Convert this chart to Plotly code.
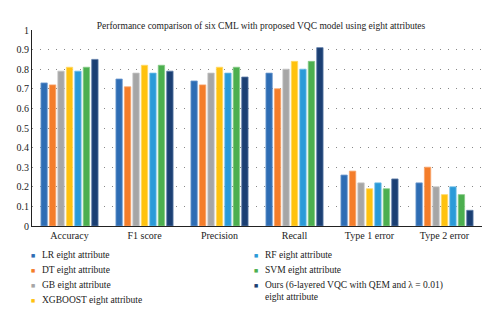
import plotly.graph_objects as go

categories = ["Accuracy", "F1 score", "Precision", "Recall", "Type 1 error", "Type 2 error"]
series_names = [
    "LR eight attribute",
    "DT eight attribute",
    "GB eight attribute",
    "XGBOOST eight attribute",
    "RF eight attribute",
    "SVM eight attribute",
    "Ours (6-layered VQC with QEM and λ = 0.01)<br>eight attribute",
]
lr = [0.73, 0.75, 0.74, 0.78, 0.26, 0.22]
dt = [0.72, 0.71, 0.72, 0.70, 0.28, 0.30]
gb = [0.79, 0.78, 0.78, 0.80, 0.22, 0.20]
xgb = [0.81, 0.82, 0.81, 0.84, 0.19, 0.16]
rf = [0.79, 0.78, 0.78, 0.80, 0.22, 0.20]
svm = [0.81, 0.82, 0.81, 0.84, 0.19, 0.16]
ours = [0.85, 0.79, 0.76, 0.91, 0.24, 0.08]
values = [lr, dt, gb, xgb, rf, svm, ours]
colors = ["#2e6db4", "#f47d2a", "#a6a6a6", "#ffc20e", "#2a9ad8", "#4caf4f", "#1b3f73"]
edges = ["#6f9bd0", "#f8a56c", "#c4c4c4", "#ffd966", "#6cbde6", "#85c985", "#5a7aa6"]
y_ticks = [0, 0.1, 0.2, 0.3, 0.4, 0.5, 0.6, 0.7, 0.8, 0.9, 1]
y_labels = ["0", "0.1", "0.2", "0.3", "0.4", "0.5", "0.6", "0.7", "0.8", "0.9", "1"]

FONT = "Liberation Serif"
W, H = 500, 323
ML, MR, MT, MB = 32, 18, 30, 97
PW, PH = W - ML - MR, H - MT - MB

fig = go.Figure()
for i, (name, vals) in enumerate(zip(series_names, values)):
    fig.add_trace(go.Bar(
        x=categories, y=vals, name=name, showlegend=False,
        marker=dict(color=colors[i], line=dict(color=edges[i], width=0.8)),
    ))

# Two-column legend below the chart (legend layout)
def px_to_paper(px, py):
    return (px - ML) / PW, (H - MB - py) / PH

legend_slots = [(33, 255), (33, 270), (33, 285), (33, 300),
                (256, 255), (256, 270), (256, 291)]
for i, name in enumerate(series_names):
    mx, my = legend_slots[i]
    ax_, ay_ = px_to_paper(mx, my if i < 6 else 285)
    fig.add_annotation(x=ax_, y=ay_, xref="paper", yref="paper", text="■",
                       showarrow=False, xanchor="center", yanchor="middle",
                       font=dict(family="DejaVu Sans", size=4.5, color=colors[i]))
    tx, ty = px_to_paper(mx + 7, my)
    fig.add_annotation(x=tx, y=ty, xref="paper", yref="paper", text=name,
                       showarrow=False, xanchor="left", yanchor="middle", align="left",
                       font=dict(family=FONT, size=9.5, color="#222"))

fig.update_layout(
    width=W, height=H,
    margin=dict(l=ML, r=MR, t=MT, b=MB),
    paper_bgcolor="white", plot_bgcolor="white",
    font=dict(family=FONT, size=10, color="#222"),
    barmode="group", bargap=0.21, bargroupgap=0.25,
    showlegend=False,
    title=dict(text="Performance comparison of six CML with proposed VQC model using eight attributes",
               x=0.522, xanchor="center", y=0.921, yanchor="middle",
               font=dict(family=FONT, size=9.5, color="#222")),
)
fig.update_xaxes(showline=True, linecolor="#222", linewidth=1.2, ticks="",
                 tickfont=dict(family=FONT, size=10, color="#222"), showgrid=False)
fig.update_yaxes(range=[0, 1], tickvals=y_ticks, ticktext=y_labels,
                 showline=True, linecolor="#222", linewidth=1.2, ticks="",
                 showgrid=True, gridcolor="#888", gridwidth=1, griddash="1px,7px",
                 zeroline=False, tickfont=dict(family=FONT, size=10, color="#222"))

fig.write_html("out.html")
